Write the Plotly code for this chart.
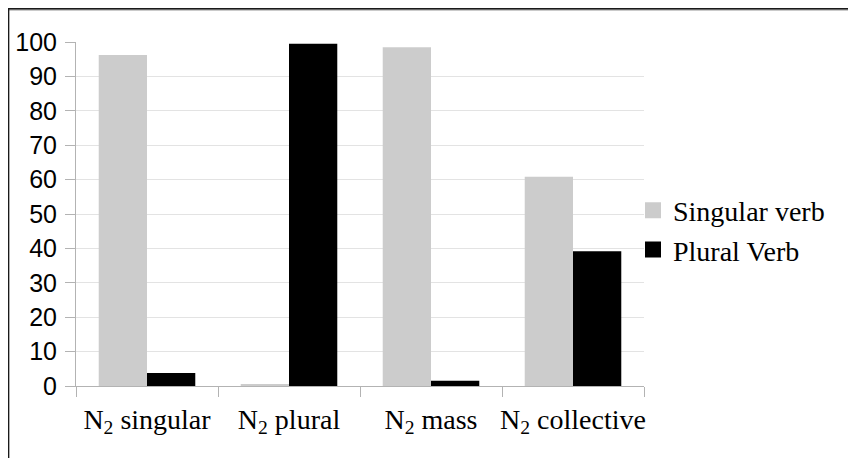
import plotly.graph_objects as go

categories = ["N<sub>2</sub> singular", "N<sub>2</sub> plural", "N<sub>2</sub> mass", "N<sub>2</sub> collective"]
singular_verb = [96.2, 0.5, 98.5, 60.8]
plural_verb = [3.8, 99.5, 1.5, 39.2]
y_ticks = [0, 10, 20, 30, 40, 50, 60, 70, 80, 90, 100]
series_names = ["Singular verb", "Plural Verb"]
series_colors = ["#cccccc", "#000000"]

# The page body adds an 8px margin, so the figure is 8px smaller each way.
W, H = 848, 450
L, R, T, B = 68, 212, 34, 72
pw, ph = W - L - R, H - T - B

def px_x(p):
    return (p - L) / pw

def px_y(p):
    return (H - B - p) / ph

fig = go.Figure()
for name, vals, col in zip(series_names, [singular_verb, plural_verb], series_colors):
    fig.add_trace(go.Bar(name=name, x=categories, y=vals, showlegend=False,
                         marker=dict(color=col, line=dict(width=0))))
# legend entries with larger square swatches
for name, col in zip(series_names, series_colors):
    fig.add_trace(go.Scatter(name=name, x=[None], y=[None], mode="markers",
                             marker=dict(symbol="square", size=16, color=col, line=dict(width=0)),
                             showlegend=True, hoverinfo="skip"))

serif = "Liberation Serif"
fig.update_layout(
    width=W, height=H,
    margin=dict(l=L, r=R, t=T, b=B, autoexpand=False),
    paper_bgcolor="white", plot_bgcolor="white",
    barmode="group", bargap=0.32, bargroupgap=0,
    showlegend=True,
    legend=dict(x=px_x(625), xanchor="left", y=0.4535, yanchor="middle",
                font=dict(family=serif, size=28, color="#000000"),
                bgcolor="rgba(0,0,0,0)", tracegroupgap=0),
    xaxis=dict(showline=True, linecolor="#b3b3b3", linewidth=1, automargin=False,
               ticks="outside", tickson="boundaries", ticklen=10, tickcolor="#b3b3b3",
               tickangle=0, ticklabelstandoff=8,
               tickfont=dict(family=serif, size=28, color="#000000"),
               showgrid=False),
    yaxis=dict(range=[0, 100], tickvals=y_ticks, showline=True, linecolor="#b3b3b3", linewidth=1,
               automargin=False,
               ticks="outside", ticklen=10, tickcolor="#b3b3b3", ticklabelstandoff=3,
               tickfont=dict(family="Liberation Sans", size=25, color="#000000"),
               showgrid=True, gridcolor="#e3e3e3", gridwidth=1, zeroline=False),
    shapes=[
        dict(type="line", xref="paper", yref="paper", x0=px_x(0), x1=px_x(W), y0=px_y(0.8), y1=px_y(0.8),
             line=dict(color="#1a1a1a", width=2)),
        dict(type="line", xref="paper", yref="paper", x0=px_x(0), x1=px_x(W), y0=px_y(2.3), y1=px_y(2.3),
             line=dict(color="#bdbdbd", width=1)),
        dict(type="line", xref="paper", yref="paper", x0=px_x(0.6), x1=px_x(0.6), y0=px_y(0), y1=px_y(H),
             line=dict(color="#1a1a1a", width=1.5)),
    ],
)

fig.write_html("out.html")
